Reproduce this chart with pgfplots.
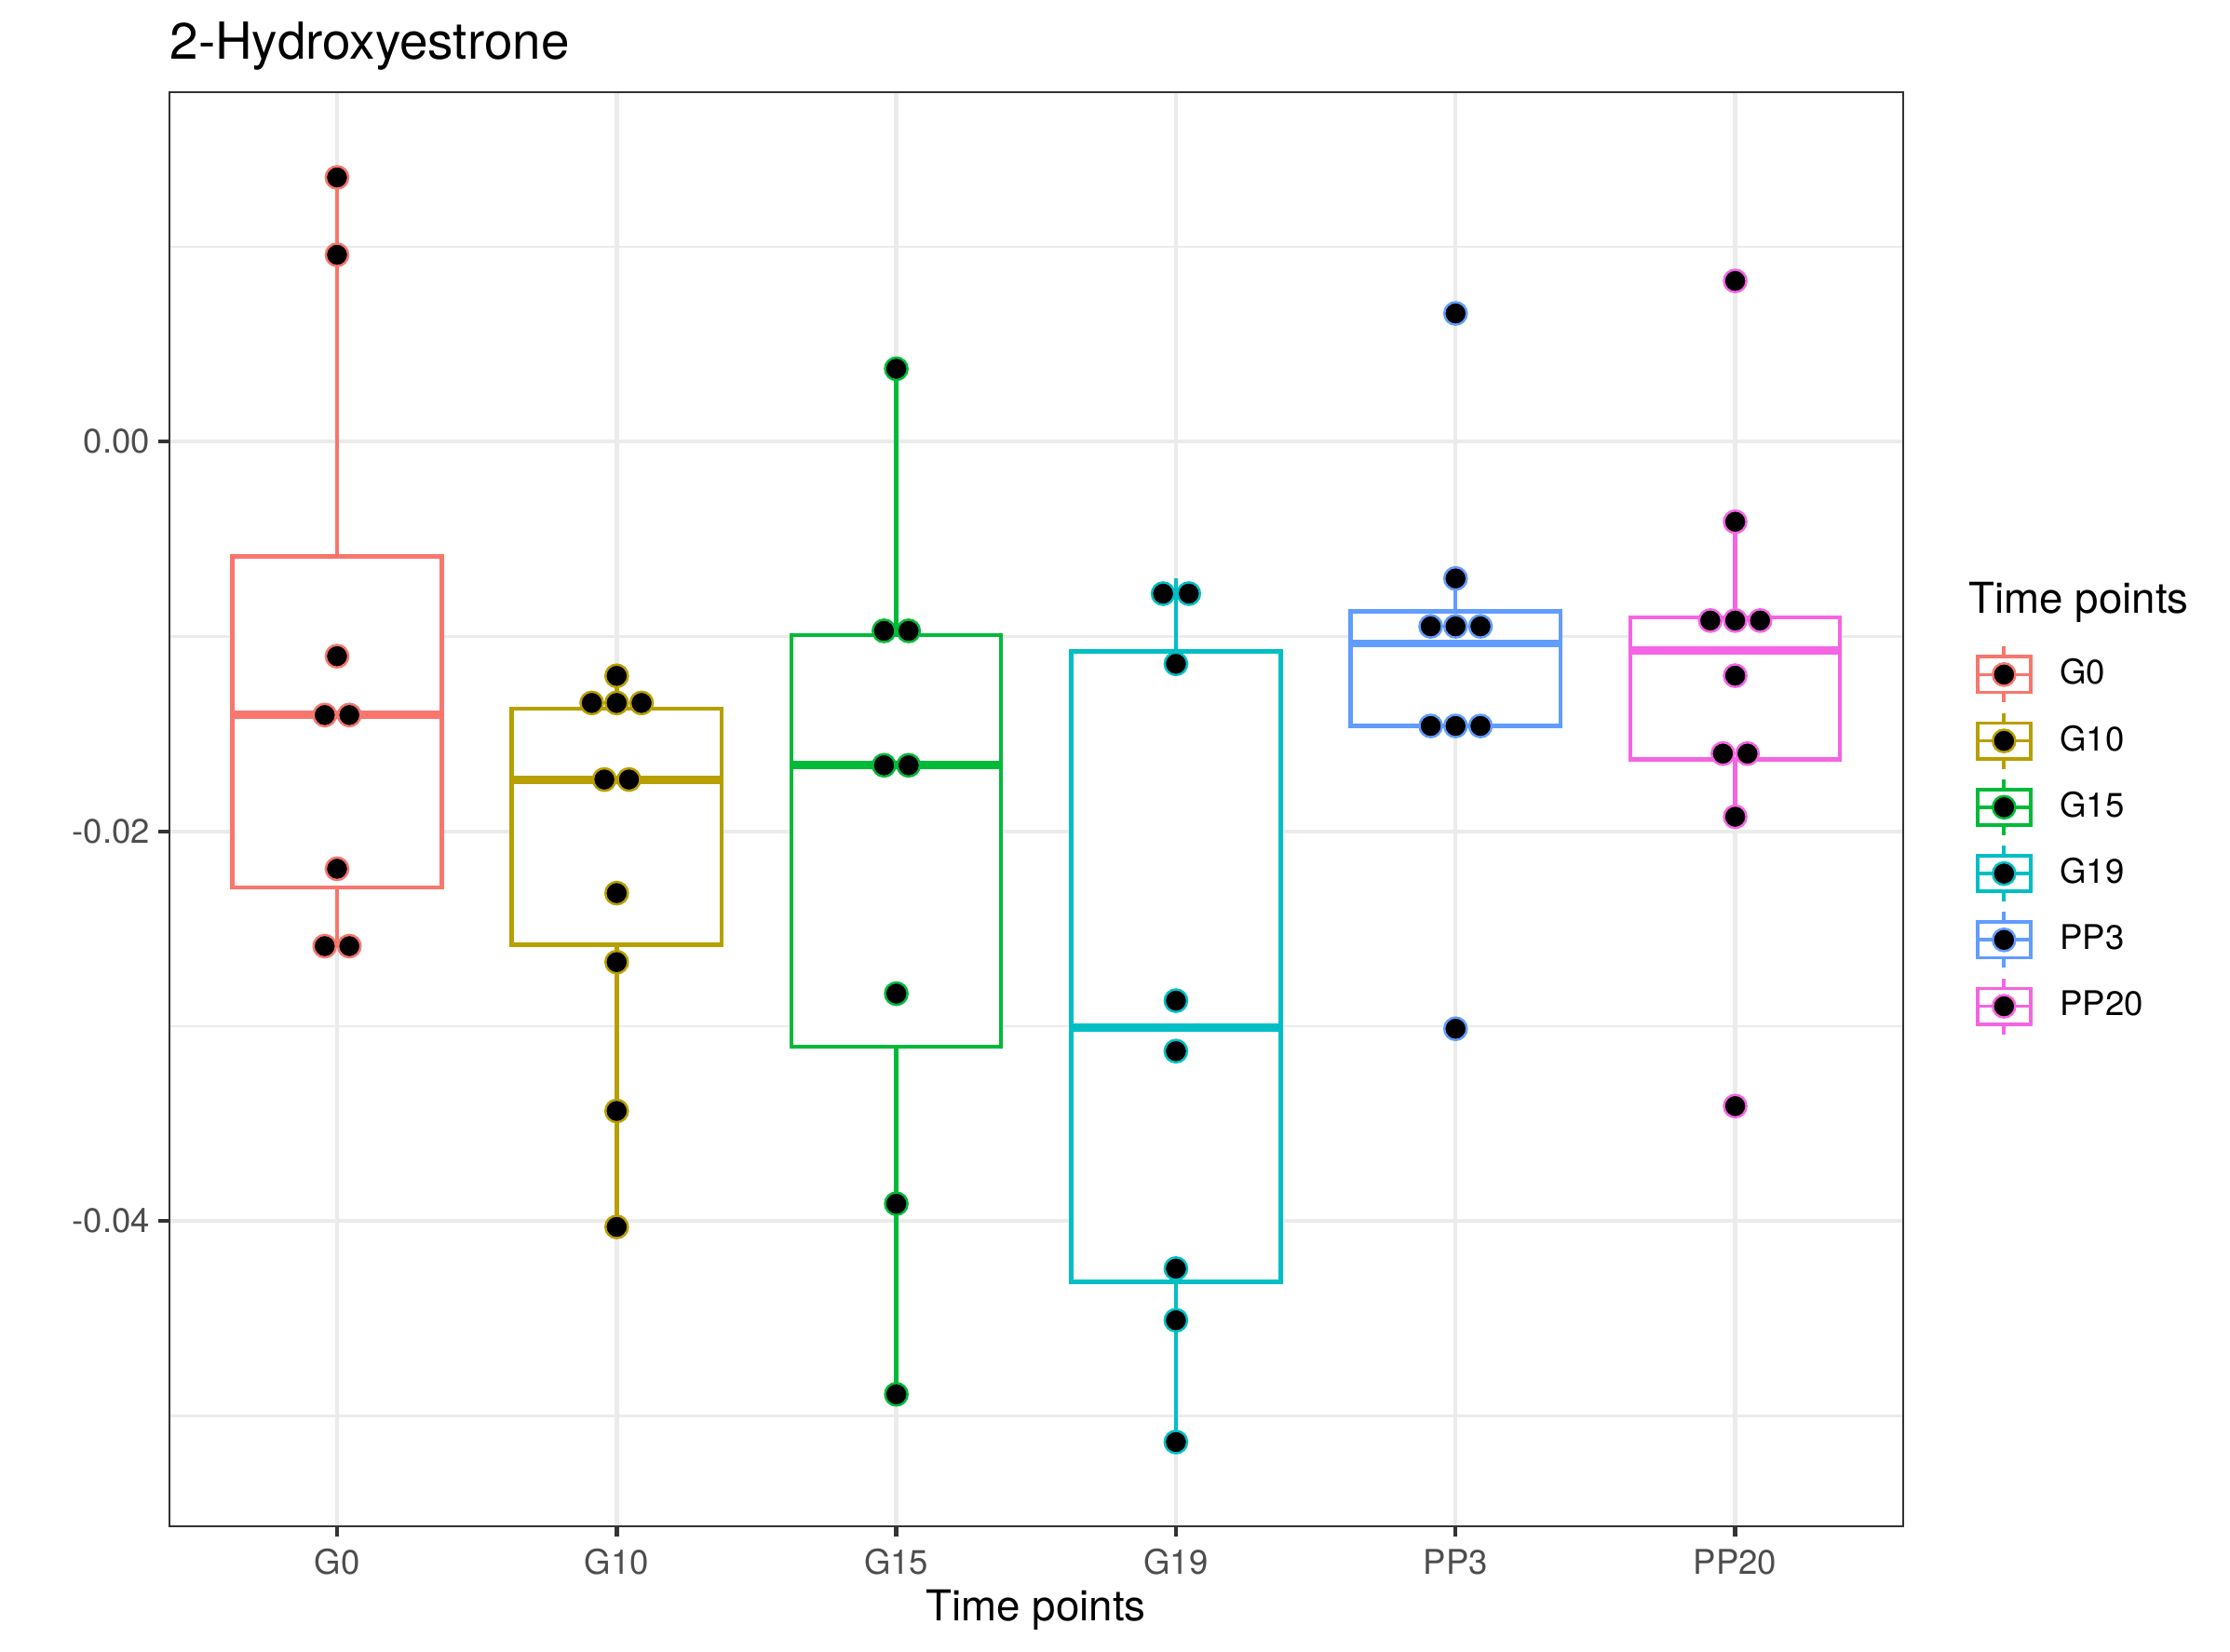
\documentclass[border=0pt]{standalone}
\usepackage{fontspec}
\setmainfont{TeX Gyre Heros}
\usepackage{pgfplots}
\pgfplotsset{compat=1.18}

\definecolor{cG0}{HTML}{F8766D}
\definecolor{cG10}{HTML}{B79F00}
\definecolor{cG15}{HTML}{00BA38}
\definecolor{cG19}{HTML}{00BFC4}
\definecolor{cPP3}{HTML}{619CFF}
\definecolor{cPP20}{HTML}{F564E3}
\definecolor{grey92}{HTML}{EBEBEB}
\definecolor{grey20}{HTML}{333333}
\definecolor{grey30}{HTML}{4D4D4D}

% legend key: small boxplot with a dot on it
\newcommand{\ggkey}[1]{%
  \draw[#1, line width=0.9pt] (0bp,-4.6bp) rectangle (13.75bp,4.6bp);
  \draw[#1, line width=0.9pt] (0bp,0bp) -- (13.75bp,0bp);
  \draw[#1, line width=0.9pt] (6.875bp,4.6bp) -- (6.875bp,7.2bp) (6.875bp,-4.6bp) -- (6.875bp,-7.2bp);
  \draw[#1, fill=black, line width=0.6pt] (6.875bp,0bp) circle (2.9bp);}

% box: colour, x, left, right, lower whisker, lower quartile, median, upper quartile, upper whisker
\newcommand{\ggbox}[9]{%
  \addplot[draw=#1, line width=1.07pt, forget plot] coordinates {(#2,#8) (#2,#9)};
  \addplot[draw=#1, line width=1.07pt, forget plot] coordinates {(#2,#5) (#2,#6)};
  \addplot[draw=#1, fill=white, line width=1.07pt, forget plot] coordinates {(#3,#6) (#4,#6) (#4,#8) (#3,#8)} -- cycle;
  \addplot[draw=#1, line width=2.13pt, forget plot] coordinates {(#3,#7) (#4,#7)};}

\pgfplotsset{
  dots/.style={only marks, mark=*, mark size=2.9bp,
    mark options={fill=black, draw=#1, line width=0.6pt}},
}

\begin{document}
\begin{tikzpicture}
\useasboundingbox (-43.63bp,-32.42bp) rectangle (531.17bp,393.34bp);
\begin{axis}[
    scale only axis,
    width=446.88bp, height=369.5bp,
    xmin=-0.6, xmax=5.6,
    ymin=-0.05566, ymax=0.01792,
    xtick={0,1,2,3,4,5},
    xticklabels={G0,G10,G15,G19,PP3,PP20},
    ytick={-0.04,-0.02,0},
    yticklabels={-0.04,-0.02,0.00},
    minor ytick={-0.05,-0.03,-0.01,0.01},
    scaled y ticks=false,
    xmajorgrids, ymajorgrids, yminorgrids,
    major grid style={color=grey92, line width=1.07pt},
    minor grid style={color=grey92, line width=0.53pt},
    tick pos=left, tick align=outside,
    major tick length=2.75pt, minor tick length=0pt,
    tick style={color=grey20, line width=1.07pt},
    axis line style={color=grey20, line width=0.55pt},
    ticklabel style={font=\fontsize{8.8}{10.56}\selectfont, text=grey30, inner sep=0pt},
    xticklabel style={anchor=north, yshift=-3.0bp},
    yticklabel style={anchor=east, xshift=-2.1bp},
    xlabel={Time points},
    xlabel style={font=\fontsize{11}{13.2}\selectfont, inner sep=0pt,
      at={(axis description cs:0.5,0)}, anchor=base, yshift=-24.3bp},
    legend style={at={(1.0419,0.6147)}, anchor=north west, draw=none, fill=none,
      inner sep=0pt, outer sep=0pt, row sep=1.8bp, column sep=7.1bp,
      font=\fontsize{8.8}{10.56}\selectfont, nodes={inner sep=0pt}},
    legend cell align=left,
    after end axis/.code={
      \node[anchor=base west, inner sep=0pt, font=\fontsize{13.2}{15.84}\selectfont, yshift=8.6bp]
        at (rel axis cs:0,1) {2-Hydroxyestrone};
      \node[anchor=base west, inner sep=0pt, font=\fontsize{11}{13.2}\selectfont]
        at (rel axis cs:1.0377,0.6366) {Time points};
    },
]

% boxes (stats)
\ggbox{cG0}{0}{-0.375}{0.375}{-0.02589}{-0.02287}{-0.01403}{-0.00589}{0.01356}
\ggbox{cG10}{1}{0.625}{1.375}{-0.04030}{-0.02581}{-0.01734}{-0.01371}{-0.01202}
\ggbox{cG15}{2}{1.625}{2.375}{-0.04889}{-0.03106}{-0.01661}{-0.00992}{0.00374}
\ggbox{cG19}{3}{2.625}{3.375}{-0.05134}{-0.04311}{-0.03006}{-0.01076}{-0.00700}
\ggbox{cPP3}{4}{3.625}{4.375}{-0.01459}{-0.01459}{-0.01036}{-0.00870}{-0.00702}
\ggbox{cPP20}{5}{4.625}{5.375}{-0.01925}{-0.01630}{-0.01071}{-0.00903}{-0.00411}

% dots
\addplot[dots=cG0, legend image code/.code={\ggkey{cG0}}] coordinates {
  (0,0.01356) (0,0.00959) (0,-0.01101) (-0.044,-0.01403) (0.044,-0.01403)
  (0,-0.02192) (-0.044,-0.02589) (0.044,-0.02589)};
\addlegendentry{G0}
\addplot[dots=cG10, legend image code/.code={\ggkey{cG10}}] coordinates {
  (1,-0.01202) (0.911,-0.01341) (1,-0.01341) (1.089,-0.01341)
  (0.956,-0.01734) (1.044,-0.01734) (1,-0.02317) (1,-0.02671) (1,-0.03435) (1,-0.04030)};
\addlegendentry{G10}
\addplot[dots=cG15, legend image code/.code={\ggkey{cG15}}] coordinates {
  (2,0.00374) (1.956,-0.00971) (2.044,-0.00971) (1.956,-0.01661) (2.044,-0.01661)
  (2,-0.02833) (2,-0.03911) (2,-0.04889)};
\addlegendentry{G15}
\addplot[dots=cG19, legend image code/.code={\ggkey{cG19}}] coordinates {
  (2.954,-0.00780) (3.046,-0.00780) (3,-0.01140) (3,-0.02869) (3,-0.03128)
  (3,-0.04244) (3,-0.04509) (3,-0.05134)};
\addlegendentry{G19}
\addplot[dots=cPP3, legend image code/.code={\ggkey{cPP3}}] coordinates {
  (4,0.00658) (4,-0.00702) (3.911,-0.00948) (4,-0.00948) (4.089,-0.00948)
  (3.911,-0.01459) (4,-0.01459) (4.089,-0.01459) (4,-0.03013)};
\addlegendentry{PP3}
\addplot[dots=cPP20, legend image code/.code={\ggkey{cPP20}}] coordinates {
  (5,0.00825) (5,-0.00411) (4.911,-0.00918) (5,-0.00918) (5.089,-0.00918)
  (5,-0.01201) (4.956,-0.01601) (5.044,-0.01601) (5,-0.01925) (5,-0.03410)};
\addlegendentry{PP20}
\end{axis}
\end{tikzpicture}
\end{document}
